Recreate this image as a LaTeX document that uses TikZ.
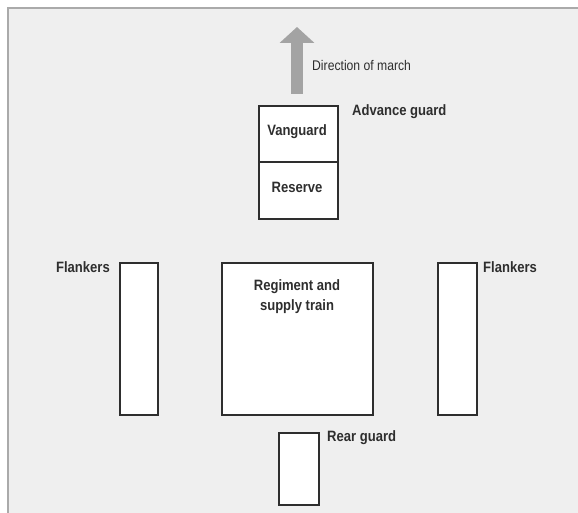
\documentclass[tikz,border=0pt]{standalone}
\usepackage{fontspec}
\setmainfont{Liberation Sans}[FakeStretch=0.87]
\usepackage{xcolor}
\usepackage{tikz}
\usetikzlibrary{arrows.meta, positioning}

\definecolor{panel}{HTML}{EFEFEF}
\definecolor{edge}{HTML}{AAAAAA}
\definecolor{ink}{HTML}{2E2E2E}
\definecolor{arrowgray}{HTML}{A3A3A3}

\begin{document}
\begin{tikzpicture}[x=1pt, y=-1pt,
            box/.style={draw=ink, line width=1.6pt, fill=white, rectangle, inner sep=0pt, anchor=north west},
            lbl/.style={text=ink, font=\fontsize{15}{20}\selectfont\bfseries, inner sep=0pt, align=center},
            march/.style={arrowgray, line width=12pt, -{Triangle[width=34pt, length=16pt]}}]

            % page and panel
            \useasboundingbox (0,0) rectangle (578,513);
            \fill[white] (0,0) rectangle (578,513);
            \fill[panel] (8,8) rectangle (578,513);
            \draw[edge, line width=1.5pt] (8,513) -- (8,8) -- (578,8);

            % direction of march
            \coordinate (tail) at (297,94);
            \coordinate (head) at (297,27);
            \draw[march] (tail) -- (head);
            \node[anchor=west, text=ink, inner sep=0pt, font=\fontsize{14}{16}\selectfont] (dir) at (312,65) {Direction of march};

            % advance guard
            \node[box, minimum width=79pt, minimum height=57pt] (van) at (258,105) {};
            \node[box, minimum width=79pt, minimum height=57pt] (res) at (258,161) {};
            \node[lbl] at (297,132) {Vanguard};
            \node[lbl] at (297,187) {Reserve};
            \node[lbl, anchor=north west] (adv) at (352,104) {Advance guard};

            % main body and flankers
            \node[box, minimum width=38pt, minimum height=152pt] (flankL) at (119,262) {};
            \node[box, minimum width=151pt, minimum height=152pt] (regt) at (221,262) {};
            \node[box, minimum width=39pt, minimum height=152pt] (flankR) at (437,262) {};
            \node[lbl, anchor=north] (regtlbl) at (297,279) {Regiment and\\supply train};
            \node[lbl, anchor=north east] (flankLlbl) at (110,261) {Flankers};
            \node[lbl, anchor=north west] (flankRlbl) at (483,261) {Flankers};

            % rear guard
            \node[box, minimum width=40pt, minimum height=72pt] (rear) at (278,432) {};
            \node[lbl, anchor=north west] (rearlbl) at (327,430) {Rear guard};
        \end{tikzpicture}
\end{document}
